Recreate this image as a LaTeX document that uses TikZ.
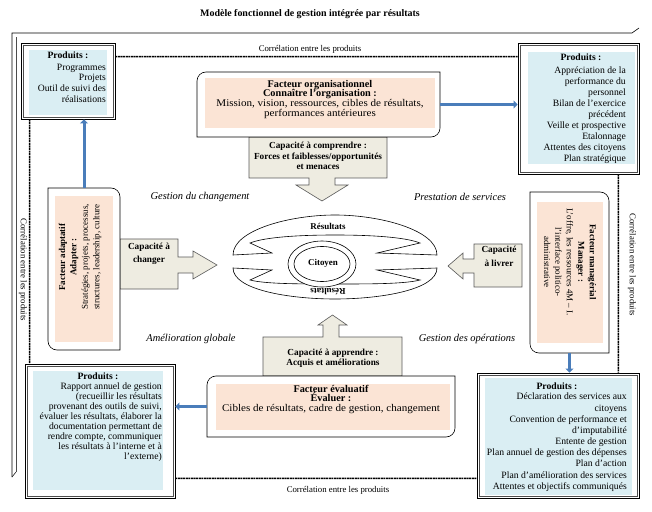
\documentclass[tikz,border=0pt]{standalone}
\usepackage{fontspec}
\setmainfont{Liberation Serif}
\newfontfamily\widefont[FakeStretch=1.08]{Liberation Serif}
\usetikzlibrary{arrows.meta,calc}
\definecolor{prodblue}{HTML}{DAEEF3}
\definecolor{peach}{HTML}{FBE4D5}
\definecolor{capfill}{HTML}{EEECE1}
\definecolor{arrblue}{HTML}{4A7DBA}
\begin{document}
\begin{tikzpicture}[x=1bp,y=-1bp,
  prodout/.style={draw=black, line width=0.8bp, inner sep=0},
  prodline/.style={draw=black!70, line width=0.5bp},
  prodin/.style={fill=prodblue, inner sep=0},
  ptxt/.style={align=right, inner sep=0, font=\fontsize{9.7}{11}\selectfont},
  phead/.style={inner sep=0, font=\bfseries\fontsize{9.7}{11}\selectfont},
  fbox/.style={draw=black, line width=0.6bp, fill=white},
  ftxt/.style={align=center, inner sep=0, font=\widefont\fontsize{10.3}{9.6}\selectfont},
  rtxt/.style={align=center, inner sep=0, font=\fontsize{9}{11.5}\selectfont},
  capshape/.style={draw=black!65, line width=0.6bp, fill=capfill},
  ctxt/.style={align=center, inner sep=0, font=\bfseries\fontsize{9.3}{10.5}\selectfont},
  bluearr/.style={draw=arrblue, line width=3bp, -{Triangle[length=4bp,width=8bp]}},
  corr/.style={draw=black, line width=1.6bp, dash pattern=on 2bp off 0.6bp},
  corrtxt/.style={inner sep=0, font=\fontsize{8.8}{10}\selectfont},
  itl/.style={inner sep=0, font=\itshape\fontsize{10.5}{12}\selectfont},
  ring/.style={draw=black, line width=0.6bp, fill=white}]
\useasboundingbox (0,0) rectangle (652,512);

% title
\node[inner sep=0, font=\bfseries\fontsize{10}{12}\selectfont] (title) at (310,14) {Modèle fonctionnel de gestion intégrée par résultats};

% half frame
\draw[line width=0.6bp] (12,477) -- (12,33) -- (632,33) -- (639,28);
\draw[line width=0.5bp, black!70] (16,472) -- (16,37);
\draw[line width=0.5bp] (12,477) -- (16,472);

% product boxes
\node[prodout, minimum width=94bp, minimum height=76bp] (p1) at (68,81) {};
\node[prodout, minimum width=121bp, minimum height=131bp] (p2) at (578.5,108.5) {};
\node[prodout, minimum width=150bp, minimum height=134bp] (p3) at (100,431) {};
\node[prodout, minimum width=162bp, minimum height=125bp] (p4) at (558,435.5) {};
\foreach \p in {p1,p2,p3,p4}{
  \draw[prodline] ($(\p.south west)+(2.5,-2.5)$) rectangle ($(\p.north east)+(-2.5,2.5)$);
}
\node[prodin, minimum width=78bp, minimum height=65bp] (pf1) at (68,82.5) {};
\node[prodin, minimum width=107bp, minimum height=112bp] (pf2) at (581.5,108) {};
\node[prodin, minimum width=130bp, minimum height=119bp] (pf3) at (98,430.5) {};
\node[prodin, minimum width=147bp, minimum height=117bp] (pf4) at (558.5,436.5) {};

\node[phead, anchor=base] (h1) at (68,59) {Produits :};
\node[ptxt, anchor=north east] (b1) at (106,63.5) {Programmes\\Projets\\Outil de suivi des\\réalisations};
\node[phead, anchor=base] (h2) at (581,61) {Produits :};
\node[ptxt, anchor=north east] (b2) at (626,66.5) {Appréciation de la\\performance du\\personnel\\Bilan de l’exercice\\précédent\\Veille et prospective\\Etalonnage\\Attentes des citoyens\\Plan stratégique};
\node[phead, anchor=base] (h3) at (98,379) {Produits :};
\node[ptxt, anchor=north east, font=\fontsize{9.7}{10.1}\selectfont] (b3) at (162,382.5) {Rapport annuel de gestion\\(recueillir les résultats\\provenant des outils de suivi,\\évaluer les résultats, élaborer la\\documentation permettant de\\rendre compte, communiquer\\les résultats à l’interne et à\\l’externe)};
\node[phead, anchor=base] (h4) at (557,389) {Produits :};
\node[ptxt, anchor=north east, font=\fontsize{9.7}{11.2}\selectfont] (b4) at (627,393) {Déclaration des services aux\\citoyens\\Convention de performance et\\d’imputabilité\\Entente de gestion\\Plan annuel de gestion des dépenses\\Plan d’action\\Plan d’amélioration des services\\Attentes et objectifs communiqués};

% correlation lines
\draw[corr] ($(p1.north east)+(0,14)$) -- ($(p2.north west)+(0,14)$);
\draw[corr] ($(p3.south east)+(0,-20)$) -- ($(p4.south west)+(0,-20)$);
\draw[corr] ([xshift=9bp]p1.south west) -- ([xshift=5bp]p3.north west);
\draw[corr] ([xshift=-21bp]p2.south east) -- ([xshift=-21bp]p4.north east);
\node[corrtxt] (ct1) at (310,49) {Corrélation entre les produits};
\node[corrtxt] (ct2) at (338,490) {Corrélation entre les produits};
\node[corrtxt, rotate=-90] (ct3) at (23,270) {Corrélation entre les produits};
\node[corrtxt, rotate=-90] (ct4) at (632,265) {Corrélation entre les produits};

% capacity callouts
\draw[capshape] (249,137) -- (387,137) -- (387,178) -- (335,178) -- (335,185) -- (348,185) -- (322,201) -- (296,185) -- (309,185) -- (309,178) -- (249,178) -- cycle;
\draw[capshape] (120,239) -- (178,239) -- (178,257) -- (193,257) -- (193,251) -- (217,265) -- (193,279) -- (193,273) -- (178,273) -- (178,289) -- (120,289) -- cycle;
\draw[capshape] (522,244) -- (522,287) -- (474,287) -- (474,273) -- (463,273) -- (463,279) -- (448,266) -- (463,253) -- (463,259) -- (474,259) -- (474,244) -- cycle;
\draw[capshape] (263,376) -- (263,337) -- (323,337) -- (323,325) -- (318,325) -- (332.5,315) -- (347,325) -- (339,325) -- (339,337) -- (402,337) -- (402,376) -- cycle;
\node[ctxt, anchor=north] (cc1) at (318,142) {Capacité à comprendre :\\Forces et faiblesses/opportunités\\et menaces};
\node[ctxt, anchor=north, font=\bfseries\fontsize{9.3}{13}\selectfont] (cc2) at (149,243) {Capacité à\\changer};
\node[ctxt, anchor=north, font=\bfseries\fontsize{9.3}{13.5}\selectfont] (cc3) at (499,246) {Capacité\\à livrer};
\node[ctxt, anchor=north, font=\bfseries\fontsize{9.3}{9.5}\selectfont] (cc4) at (333,349) {Capacité à apprendre :\\Acquis et améliorations};

% factor boxes
\node[inner sep=0, minimum width=243bp, minimum height=65bp] (org) at (318.5,104.5) {};
\draw[fbox] (197,81) .. controls (197,76) and (201,72) .. (206,72) -- (440,72) -- (440,128) .. controls (440,133) and (436,137) .. (431,137) -- (197,137) -- cycle;
\fill[peach] (205,78) rectangle (435,128);
\node[ftxt, anchor=north] (orgt) at (320,80) {\normalfont\bfseries\fontsize{10.3}{9.6}\selectfont Facteur organisationnel\\\normalfont\bfseries\fontsize{10.3}{9.6}\selectfont Connaître l’organisation :\\Mission, vision, ressources, cibles de résultats,\\performances antérieures};

\node[inner sep=0, minimum width=72bp, minimum height=162bp] (lf) at (84,269) {};
\draw[fbox] (48,188) -- (111,188) .. controls (116,188) and (120,192) .. (120,197) -- (120,350) -- (57,350) .. controls (52,350) and (48,346) .. (48,341) -- cycle;
\fill[peach] (55,196) rectangle (113,342);
\node[rtxt, rotate=90] (lft) at (80,257) {\textbf{Facteur adaptatif}\\\textbf{Adapter :}\\Stratégies, projets, processus,\\structures, leadership, culture};

\node[inner sep=0, minimum width=79bp, minimum height=161bp] (rf) at (569.5,272.5) {};
\draw[fbox] (530,192) -- (600,192) .. controls (605,192) and (609,196) .. (609,201) -- (609,353) -- (539,353) .. controls (534,353) and (530,349) .. (530,344) -- cycle;
\fill[peach] (537,202) rectangle (603,343);
\node[rtxt, rotate=-90] (rft) at (570,262) {\textbf{Facteur managérial}\\\textbf{Manager :}\\L’offre, les ressources 4M – I.\\l’interface politico-\\administrative};

\node[inner sep=0, minimum width=248bp, minimum height=61bp] (ev) at (331,406.5) {};
\draw[fbox] (207,385) .. controls (207,380) and (211,376) .. (216,376) -- (455,376) -- (455,428) .. controls (455,433) and (451,437) .. (446,437) -- (207,437) -- cycle;
\fill[peach] (216,384) rectangle (450,430);
\node[ftxt, anchor=north] (evt) at (331,385) {\normalfont\bfseries\fontsize{10.3}{9.6}\selectfont Facteur évaluatif\\\normalfont\bfseries\fontsize{10.3}{9.6}\selectfont Évaluer :\\Cibles de résultats, cadre de gestion, changement};

% blue arrows
\draw[bluearr] (lf.north) -- (lf.north |- p1.south);
\draw[bluearr] (org.east) -- (org.east -| p2.west);
\draw[bluearr] (rf.south) -- (rf.south |- p4.north);
\draw[bluearr] (ev.west) -- (ev.west -| p3.east);

% central figure
\draw[ring] (233,268) .. controls (233,290) and (290,299) .. (335,299) .. controls (380,299) and (437,290) .. (437,268) -- (377,270) -- (420,280) .. controls (405,284) and (370,284) .. (335,284) .. controls (300,284) and (265,284) .. (250,280) -- (272,270) -- cycle;
\draw[ring] (233,255) .. controls (233,230) and (290,215) .. (335,215) .. controls (380,215) and (437,230) .. (437,255) -- (377,253) -- (420,243) .. controls (405,237) and (370,235) .. (335,235) .. controls (300,235) and (265,237) .. (250,243) -- (272,253) -- cycle;
\draw[ring] (322,264) ellipse [x radius=34, y radius=23];
\draw[ring] (322,264) ellipse [x radius=28, y radius=17.5];
\node[inner sep=0, font=\bfseries\fontsize{9}{10}\selectfont] (res1) at (328,226) {Résultats};
\node[inner sep=0, font=\bfseries\fontsize{9}{10}\selectfont] (cit) at (323,263) {Citoyen};
\node[inner sep=0, font=\bfseries\fontsize{9}{10}\selectfont, rotate=180] (res2) at (328,292) {Résultats};

% italic labels
\node[itl] (g1) at (200,197) {Gestion du changement};
\node[itl] (g2) at (460,197) {Prestation de services};
\node[itl] (g3) at (191,339) {Amélioration globale};
\node[itl] (g4) at (467,339) {Gestion des opérations};
\end{tikzpicture}
\end{document}
